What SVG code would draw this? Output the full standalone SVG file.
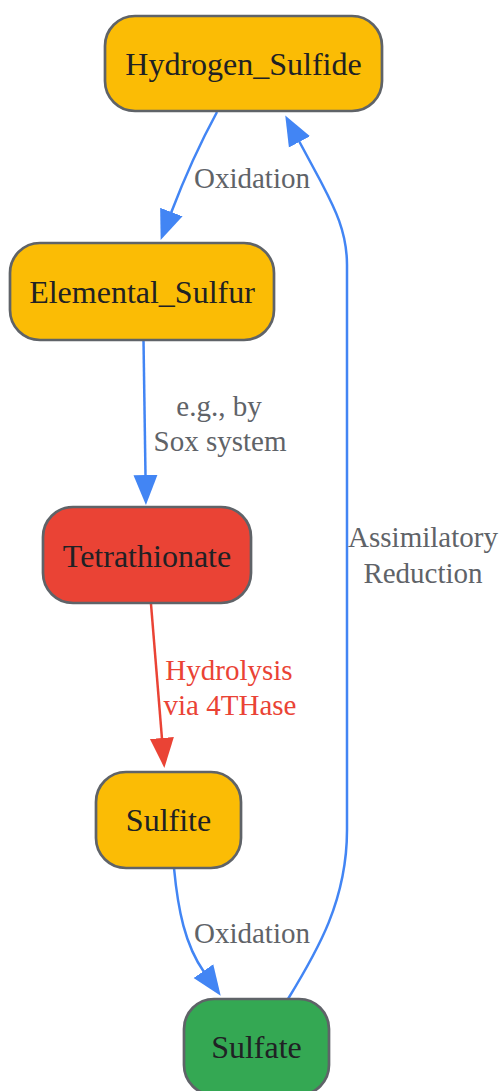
<svg xmlns="http://www.w3.org/2000/svg" width="502" height="1091" viewBox="0 0 502 1091">
<style>
.node rect{stroke:#5f6368;stroke-width:2.7}
.node text{font-family:"Liberation Serif",serif;font-size:32px;fill:#202124;text-anchor:middle}
.edge{fill:none;stroke-width:2.5}
.blue{stroke:#4285F4}
.red{stroke:#EA4335}
.lbl{font-family:"Liberation Serif",serif;font-size:29px;fill:#5f6368;text-anchor:middle}
.lblred{fill:#EA4335}
</style>
<defs>
<marker id="ab" markerUnits="userSpaceOnUse" markerWidth="32" markerHeight="26" refX="1" refY="12" orient="auto" viewBox="0 0 32 24">
<path d="M0,0 L30,12 L0,24 Z" fill="#4285F4"/>
</marker>
<marker id="ar" markerUnits="userSpaceOnUse" markerWidth="32" markerHeight="26" refX="1" refY="12" orient="auto" viewBox="0 0 32 24">
<path d="M0,0 L30,12 L0,24 Z" fill="#EA4335"/>
</marker>
</defs>
<g id="connectors">
<path class="edge blue" d="M217,112 Q192,158 171,213" marker-end="url(#ab)"/>
<path class="edge blue" d="M143.5,340 L145.5,476" marker-end="url(#ab)"/>
<path class="edge red" d="M151,604 L162,739" marker-end="url(#ar)"/>
<path class="edge blue" d="M174,868 C178,910 185,945 204,972" marker-end="url(#ab)"/>
<path class="edge blue" d="M288,999 C318,950 347,900 347,830 L347,265 C347,230 333,205 320,180 L299,141" marker-end="url(#ab)"/>
<text class="lbl" x="252" y="188">Oxidation</text>
<text class="lbl" x="219" y="416">e.g., by</text>
<text class="lbl" x="220" y="451">Sox system</text>
<text class="lbl lblred" x="229" y="680">Hydrolysis</text>
<text class="lbl lblred" x="230" y="715">via 4THase</text>
<text class="lbl" x="252" y="943">Oxidation</text>
<text class="lbl" x="423" y="547">Assimilatory</text>
<text class="lbl" x="423" y="583">Reduction</text>
</g>
<g id="Hydrogen_Sulfide" class="node">
<rect x="105" y="16" width="277" height="95" rx="30" fill="#FBBC05"/>
<text x="243.5" y="75">Hydrogen_Sulfide</text>
</g>
<g id="Elemental_Sulfur" class="node">
<rect x="10" y="243" width="264" height="97" rx="30" fill="#FBBC05"/>
<text x="142" y="302.5">Elemental_Sulfur</text>
</g>
<g id="Tetrathionate" class="node">
<rect x="43" y="507" width="208" height="96" rx="30" fill="#EA4335"/>
<text x="147" y="566.5">Tetrathionate</text>
</g>
<g id="Sulfite" class="node">
<rect x="96" y="772" width="145" height="96" rx="30" fill="#FBBC05"/>
<text x="168.5" y="831">Sulfite</text>
</g>
<g id="Sulfate" class="node">
<rect x="184" y="999" width="145" height="96" rx="30" fill="#34A853"/>
<text x="256.5" y="1058">Sulfate</text>
</g>
</svg>
